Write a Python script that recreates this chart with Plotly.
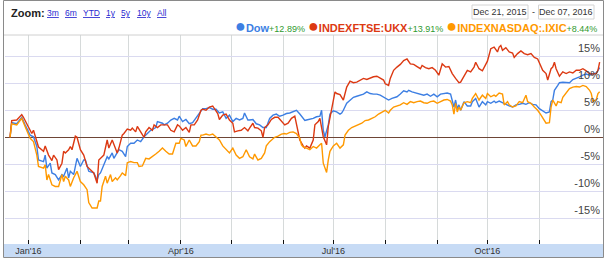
import pandas as pd
import plotly.graph_objects as go

START = pd.Timestamp("2015-12-21")

# ---- data: days since 2015-12-21, percent change ----
dow_day = [0, 1, 4, 7, 9, 12, 14, 16, 17, 20, 21, 22, 24, 25, 27, 29, 31, 32, 34, 35, 36, 38, 40, 42, 44, 45, 47, 50, 52, 53, 54, 56, 58, 59, 61, 62, 64, 65, 67, 69, 70, 72, 74, 76, 78, 80, 82, 84, 87, 88, 91, 92, 94, 96, 98, 100, 101, 103, 105, 107, 109, 111, 113, 114, 115, 117, 119, 121, 123, 125, 127, 129, 131, 133, 135, 137, 139, 140, 142, 143, 145, 147, 149, 151, 153, 155, 157, 159, 161, 163, 165, 167, 169, 171, 173, 175, 176, 177, 179, 181, 183, 185, 186, 187, 188, 190, 191, 193, 195, 197, 198, 199, 201, 203, 205, 207, 209, 211, 213, 215, 217, 219, 221, 223, 225, 226, 228, 231, 233, 235, 237, 238, 240, 242, 244, 247, 249, 251, 253, 255, 257, 259, 261, 263, 264, 265, 266, 267, 268, 269, 271, 273, 275, 276, 278, 279, 280, 282, 284, 285, 287, 289, 290, 292, 294, 296, 298, 300, 302, 304, 306, 308, 310, 312, 314, 316, 318, 320, 322, 323, 324, 325, 327, 328, 330, 332, 334, 336, 338, 340, 342, 344, 346, 348, 350, 351, 352]
dow_pct = [0, 2.7, 2.5, 3.7, 2.3, 0.4, 0.1, -1.7, -4.2, -4.5, -3.3, -5.7, -4.8, -6.6, -6.9, -7.9, -6.9, -7.2, -5.7, -7.5, -6.3, -6.9, -3.9, -5.4, -4.2, -4.2, -6.3, -6.6, -7.9, -6.9, -6.6, -5.1, -3.6, -4.0, -2.9, -3.9, -2.9, -2.3, -2.6, -3.6, -1.7, -1.1, -1.1, -0.5, -0.8, 0.1, 0.7, 1.3, 1.8, 2.9, 2.6, 2.3, 2.6, 3.2, 3.5, 3.2, 3.9, 2.9, 3.3, 2.5, 2.7, 3.5, 4.3, 4.7, 5.3, 5.3, 5.5, 5.2, 5.2, 4.5, 4.7, 3.5, 4.1, 2.9, 3.5, 3.2, 3.5, 4.5, 3.2, 3.2, 3.3, 2.5, 2.3, 1.8, 1.8, 3.5, 4.1, 4.3, 3.9, 4.1, 4.4, 4.5, 4.7, 5.0, 4.3, 3.5, 3.1, 3.2, 3.3, 3.5, 3.8, 3.9, 5.0, 1.3, 0.1, 2.3, 4.3, 4.9, 4.7, 4.3, 4.5, 5.0, 6.3, 6.9, 7.4, 7.6, 7.8, 8.0, 8.4, 8.1, 8.0, 8.0, 7.8, 7.5, 7.2, 6.9, 7.2, 7.5, 8.0, 8.6, 8.4, 8.7, 8.4, 8.2, 8.1, 7.8, 8.0, 7.6, 8.0, 7.5, 8.0, 8.1, 8.2, 8.0, 6.6, 5.6, 6.9, 5.3, 6.0, 5.0, 6.6, 5.8, 5.8, 6.6, 7.2, 6.3, 5.6, 6.6, 6.0, 6.6, 6.3, 6.7, 6.4, 6.7, 6.4, 6.0, 5.8, 5.6, 6.0, 6.1, 6.3, 6.1, 6.4, 6.1, 6.0, 5.3, 4.9, 4.5, 4.7, 6.6, 6.9, 8.7, 9.6, 10.1, 10.2, 10.2, 10.1, 10.7, 10.9, 11.2, 11.5, 11.7, 11.5, 11.8, 11.9, 12.3, 12.89]

ftse_day = [0, 1, 4, 7, 8, 10, 12, 13, 14, 16, 17, 20, 21, 23, 25, 26, 28, 29, 31, 32, 33, 35, 36, 37, 39, 40, 42, 44, 46, 48, 50, 52, 53, 55, 56, 58, 59, 61, 62, 64, 65, 67, 68, 70, 72, 73, 75, 76, 78, 80, 81, 83, 85, 86, 88, 90, 92, 94, 96, 98, 100, 101, 103, 105, 107, 108, 110, 112, 114, 115, 117, 119, 121, 122, 124, 125, 127, 129, 131, 133, 134, 136, 138, 140, 142, 143, 145, 146, 148, 150, 151, 152, 154, 156, 158, 160, 162, 164, 166, 168, 170, 171, 173, 175, 176, 177, 179, 181, 182, 184, 185, 187, 189, 190, 192, 194, 195, 197, 199, 200, 201, 203, 205, 207, 209, 211, 213, 215, 217, 219, 221, 223, 224, 226, 227, 229, 231, 233, 235, 237, 239, 241, 243, 245, 246, 248, 250, 252, 254, 256, 258, 260, 262, 264, 266, 268, 269, 271, 273, 275, 277, 278, 280, 282, 284, 285, 287, 289, 291, 292, 293, 294, 296, 298, 300, 301, 303, 305, 307, 309, 311, 313, 315, 317, 318, 320, 321, 323, 324, 325, 326, 328, 330, 332, 334, 336, 338, 340, 342, 344, 346, 348, 350, 351, 352]
ftse_pct = [0, 3.1, 3.2, 4.2, 3.7, 2.6, 1.3, 0.7, 1.3, -0.5, -1.8, -2.6, -1.6, -3.3, -4.3, -3.3, -4.2, -6.0, -4.8, -2.6, -2.9, -2.3, -1.7, -2.3, 0.2, 0, -2.3, -3.3, -5.4, -6.0, -6.6, -8.5, -4.2, -3.6, -3.3, -0.5, -2.0, -0.5, -1.4, -2.9, -2.0, 0.4, 0.7, 1.5, 1.3, 1.7, 1.0, 2.0, 1.0, 0, 1.0, 1.8, 1.3, 2.3, 1.8, 2.3, 2.3, 2.3, 1.3, 1.0, 2.3, 2.1, 1.3, 1.8, 0.9, 2.3, 2.3, 3.2, 5.0, 5.2, 5.0, 5.6, 5.8, 5.3, 4.4, 3.3, 4.1, 4.3, 3.2, 2.6, 1.0, 1.2, 1.3, 1.8, 1.2, 1.7, 2.6, 1.8, 1.7, 1.2, 0, 1.8, 2.3, 3.3, 3.7, 3.7, 2.9, 2.3, 2.6, 3.5, 3.9, 2.6, -0.5, -1.6, -2.0, -1.6, -2.0, -0.5, 2.3, 2.9, 3.5, 0.1, -1.4, 2.0, 5.6, 8.4, 8.1, 7.9, 6.9, 8.1, 9.3, 10.4, 10.1, 10.2, 10.6, 10.9, 10.7, 11.0, 11.2, 11.3, 10.9, 10.6, 9.9, 9.6, 10.9, 12.4, 13.0, 13.5, 14.2, 14.5, 13.6, 13.5, 13.1, 12.7, 13.3, 12.9, 12.7, 12.9, 12.4, 11.5, 13.6, 13.0, 13.1, 11.8, 10.9, 10.1, 10.2, 11.2, 12.4, 12.1, 13.0, 13.9, 12.7, 12.3, 13.6, 14.1, 16.4, 16.7, 15.8, 16.7, 17.0, 16.1, 16.6, 15.8, 15.6, 14.8, 15.5, 16.0, 15.5, 15.3, 15.5, 14.8, 14.5, 13.3, 12.4, 11.8, 10.6, 12.7, 13.0, 13.9, 12.7, 11.3, 12.1, 11.8, 12.1, 11.9, 12.4, 12.4, 12.7, 12.3, 11.8, 11.7, 11.8, 12.4, 13.91]

nasdaq_day = [0, 1, 4, 7, 9, 12, 14, 16, 17, 20, 21, 22, 23, 25, 27, 29, 31, 32, 33, 35, 36, 38, 40, 42, 44, 46, 47, 49, 52, 53, 54, 55, 57, 58, 60, 61, 63, 64, 66, 67, 69, 70, 72, 74, 76, 77, 79, 81, 83, 85, 87, 89, 91, 93, 95, 97, 99, 101, 102, 104, 105, 107, 109, 111, 113, 114, 115, 117, 119, 121, 123, 125, 127, 129, 131, 133, 135, 137, 139, 141, 143, 145, 146, 148, 150, 152, 153, 155, 158, 160, 162, 164, 165, 167, 169, 171, 173, 174, 175, 177, 179, 181, 183, 185, 186, 187, 189, 190, 191, 193, 195, 197, 199, 200, 202, 204, 206, 208, 210, 212, 214, 216, 218, 220, 222, 224, 226, 227, 229, 231, 233, 235, 237, 239, 241, 243, 245, 247, 249, 251, 253, 255, 257, 259, 261, 263, 264, 265, 266, 267, 268, 269, 271, 273, 275, 276, 278, 279, 280, 282, 284, 285, 287, 289, 290, 292, 294, 295, 297, 298, 300, 302, 304, 306, 308, 309, 311, 313, 315, 317, 319, 320, 322, 323, 324, 326, 327, 329, 330, 332, 334, 336, 338, 340, 342, 344, 346, 347, 348, 350, 351, 352]
nasdaq_pct = [0, 2.5, 2.3, 3.5, 2.0, -0.2, -0.8, -3.3, -5.4, -5.7, -5.1, -7.9, -6.9, -8.8, -9.1, -9.1, -6.9, -8.2, -7.2, -7.9, -9.1, -7.5, -6.3, -8.2, -8.8, -9.7, -12.1, -13.1, -13.1, -11.8, -11.8, -9.1, -7.2, -8.5, -6.9, -8.2, -7.5, -7.9, -7.1, -6.6, -7.1, -4.7, -4.5, -4.7, -4.7, -5.4, -5.3, -3.9, -4.0, -3.6, -3.1, -2.6, -2.0, -2.6, -3.1, -3.1, -1.1, -1.1, -0.2, -0.5, -1.7, -0.5, -1.6, -1.6, -0.8, 0.4, 0.4, 0.6, 0.4, 0.6, 0.1, -0.5, -1.6, -2.3, -2.9, -2.0, -3.3, -3.9, -3.6, -2.3, -3.6, -4.0, -3.1, -4.2, -3.9, -2.9, -1.6, -0.8, 0, 0.2, 0.6, 0.7, 0.6, 0.9, 1.0, 0.7, -0.2, -1.4, -1.8, -2.0, -2.3, -1.7, -2.0, -1.4, -1.1, -4.8, -6.5, -4.2, -2.6, -1.6, -1.1, -2.0, -1.4, 0.4, 1.3, 1.8, 2.1, 2.3, 2.6, 3.1, 3.2, 3.5, 3.8, 4.3, 4.7, 5.0, 4.5, 5.0, 5.6, 5.8, 6.0, 6.4, 6.1, 6.6, 6.4, 6.6, 6.7, 6.4, 6.3, 6.6, 6.7, 6.3, 6.6, 6.9, 7.0, 6.7, 6.0, 4.3, 6.3, 4.7, 5.6, 5.0, 6.4, 6.6, 6.4, 7.2, 8.1, 7.5, 6.9, 7.8, 7.2, 8.1, 7.5, 7.8, 7.6, 8.2, 8.0, 6.0, 6.6, 6.0, 5.6, 5.8, 6.6, 6.4, 7.8, 6.6, 6.3, 5.6, 5.0, 4.1, 3.2, 2.6, 2.7, 5.6, 6.9, 5.8, 6.6, 6.4, 7.4, 8.1, 9.0, 9.3, 9.4, 9.3, 9.6, 9.4, 8.7, 8.1, 6.6, 7.0, 8.1, 8.44]

series_names = ["Dow", "INDEXFTSE:UKX", "INDEXNASDAQ:.IXIC"]
series_colors = ["#3d7fe3", "#dc3912", "#ff9900"]
month_ticks = pd.date_range("2016-01-01", "2016-12-01", freq="MS")
month_labels = ["Jan'16", "", "", "Apr'16", "", "", "Jul'16", "", "", "Oct'16", "", ""]
y_ticks = [-15, -10, -5, 0, 5, 10, 15]
zoom_links = ["3m", "6m", "YTD", "1y", "5y", "10y", "All"]

# ---- layout geometry (pixels) ----
W, H = 606, 261
L, R, T, B = 5, 3, 35, 17
PW, PH = W - L - R, H - T - B


def px(x):
    return (x - L) / PW


def py(y):
    return (H - B - y) / PH


FONT = "Liberation Sans, Arial, sans-serif"

fig = go.Figure()
all_days = [dow_day, ftse_day, nasdaq_day]
all_pct = [dow_pct, ftse_pct, nasdaq_pct]
for name, col, d, v in zip(series_names, series_colors, all_days, all_pct):
    dates = START + pd.to_timedelta(d, unit="D")
    fig.add_trace(go.Scatter(x=dates, y=v, mode="lines", name=name,
                             line=dict(color=col, width=1.4), showlegend=False))

end_date = START + pd.Timedelta(days=max(dow_day))

fig.update_layout(
    width=W, height=H,
    margin=dict(l=L, r=R, t=T, b=B),
    paper_bgcolor="white", plot_bgcolor="white",
    font=dict(family=FONT, color="#333"),
    xaxis=dict(
        type="date",
        range=[START - pd.Timedelta(days=3), START + pd.Timedelta(days=354)],
        tickvals=month_ticks, ticktext=month_labels,
        showgrid=True, gridcolor="#d6dada", gridwidth=1,
        ticks="inside", ticklen=4, tickcolor="#111", tickwidth=1,
        tickfont=dict(size=9, color="#333", family=FONT),
        showline=False, zeroline=False, fixedrange=True,
    ),
    yaxis=dict(
        side="right",
        range=[-19.76, 18.94],
        tickvals=y_ticks, ticktext=[f"{t}%" for t in y_ticks],
        ticklabelposition="inside top",
        tickfont=dict(size=11, color="#444", family=FONT),
        showgrid=True, gridcolor="#dadaf0", gridwidth=1,
        zeroline=True, zerolinecolor="#6e4536", zerolinewidth=1,
        showline=False, ticks="", fixedrange=True,
    ),
)

shapes = []
# bottom axis band
shapes.append(dict(type="rect", xref="paper", yref="paper", x0=px(4), x1=px(603), y0=py(257), y1=py(244),
                   fillcolor="#c7dbf5", line=dict(width=0), layer="below"))
# top line of plot area
shapes.append(dict(type="line", xref="paper", yref="paper", x0=px(4), x1=px(603), y0=py(35), y1=py(35),
                   line=dict(color="#d0d0d0", width=1)))
# outer frame
shapes.append(dict(type="rect", xref="paper", yref="paper", x0=px(3.5), x1=px(603.5), y0=py(257.5), y1=py(0.5),
                   line=dict(color="#8a8a8a", width=1), fillcolor="rgba(0,0,0,0)"))
# date boxes
shapes.append(dict(type="rect", xref="paper", yref="paper", x0=px(472), x1=px(528), y0=py(19), y1=py(5),
                   line=dict(color="#d4d4d4", width=1), fillcolor="white"))
shapes.append(dict(type="rect", xref="paper", yref="paper", x0=px(538.5), x1=px(594), y0=py(19), y1=py(5),
                   line=dict(color="#d4d4d4", width=1), fillcolor="white"))

ann = []
ann.append(dict(text="<b>Zoom:</b>", x=px(9), y=py(12.5), xref="paper", yref="paper",
                xanchor="left", yanchor="middle", showarrow=False,
                font=dict(size=11, color="#222", family=FONT)))
link_x = [45, 63, 81, 104, 119, 135, 155]
for lab, lx in zip(zoom_links, link_x):
    ann.append(dict(text=f"<u>{lab}</u>", x=px(lx), y=py(12.5), xref="paper", yref="paper",
                    xanchor="left", yanchor="middle", showarrow=False,
                    font=dict(size=8.5, color="#2a2ad0", family=FONT)))

ann.append(dict(text=START.strftime("%b %d, %Y"), x=px(500), y=py(12), xref="paper", yref="paper",
                xanchor="center", yanchor="middle", showarrow=False,
                font=dict(size=9, color="#333", family=FONT)))
ann.append(dict(text="-", x=px(533), y=py(12), xref="paper", yref="paper",
                xanchor="center", yanchor="middle", showarrow=False,
                font=dict(size=9, color="#333", family=FONT)))
ann.append(dict(text=end_date.strftime("%b %d, %Y"), x=px(566), y=py(12), xref="paper", yref="paper",
                xanchor="center", yanchor="middle", showarrow=False,
                font=dict(size=9, color="#333", family=FONT)))

parts = []
for name, col, v in zip(series_names, series_colors, all_pct):
    chg = v[-1]
    sign = "+" if chg >= 0 else ""
    parts.append(
        f"<span style='font-size:18px;color:{col}'>●</span>"
        f"<b><span style='color:{col}'>{name}</span></b>"
        f"<span style='font-size:9px;color:#2f9a2f'>{sign}{chg:.2f}%</span>"
    )
ann.append(dict(text=" ".join(parts), x=px(599), y=py(26.5), xref="paper", yref="paper",
                xanchor="right", yanchor="middle", showarrow=False,
                font=dict(size=11, family=FONT)))

fig.update_layout(shapes=shapes, annotations=ann)
fig.write_html("out.html")
